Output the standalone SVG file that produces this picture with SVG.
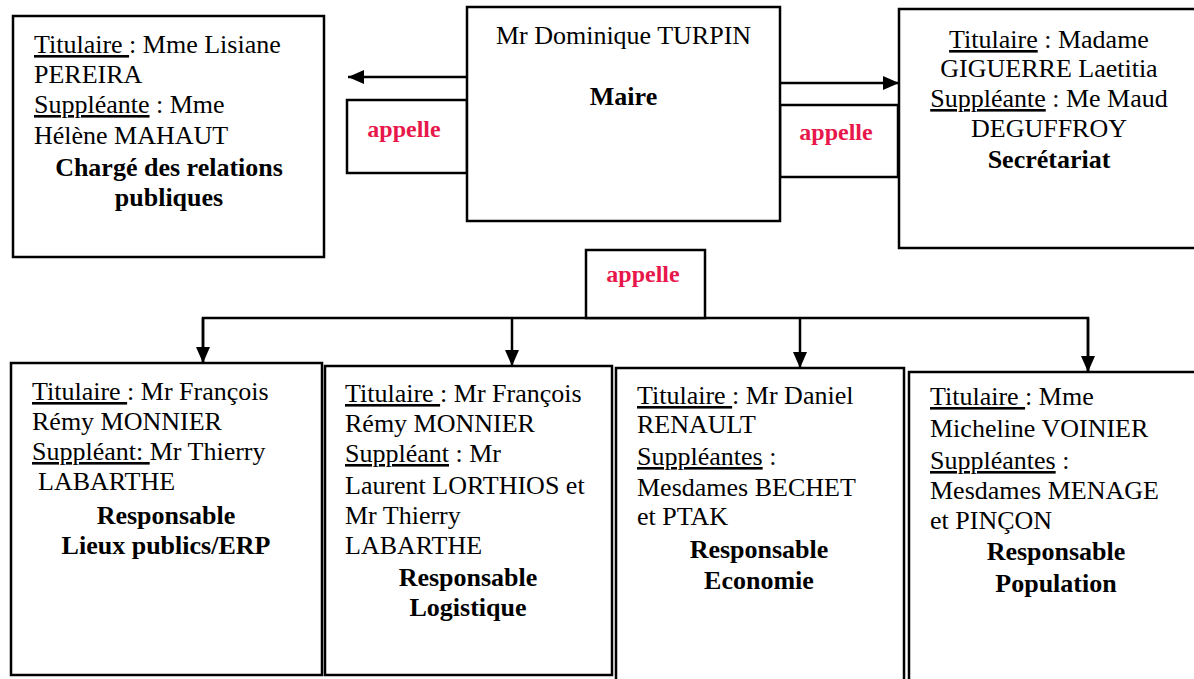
<svg xmlns="http://www.w3.org/2000/svg" width="1194" height="679" viewBox="0 0 1194 679">
<style>
.box{fill:#fff;stroke:#000;stroke-width:2.5}
.t{font-family:"Liberation Serif","Times New Roman",serif;font-size:26px;fill:#000}
.b{font-weight:bold}
.c{text-anchor:middle}
.ap{font-family:"Liberation Serif","Times New Roman",serif;font-weight:bold;font-size:24px;fill:#e8174b;text-anchor:middle}
.u{text-decoration:underline}
.conn{stroke:#000;stroke-width:2.5;fill:none}
</style>
<defs>
<marker id="ah" markerWidth="16" markerHeight="14" refX="16" refY="7" orient="auto" markerUnits="userSpaceOnUse">
<path d="M0,0 L16,7 L0,14 z" fill="#000"/>
</marker>
</defs>
<rect width="1194" height="679" fill="#fff"/>
<g id="connectors">
<line class="conn" x1="467" y1="77" x2="348" y2="77" marker-end="url(#ah)"/>
<line class="conn" x1="780" y1="83" x2="899" y2="83" marker-end="url(#ah)"/>
<polyline class="conn" points="203,363 203,318 1088,318 1088,371"/>
<line class="conn" x1="203" y1="318" x2="203" y2="363" marker-end="url(#ah)"/>
<line class="conn" x1="512" y1="318" x2="512" y2="366" marker-end="url(#ah)"/>
<line class="conn" x1="800" y1="318" x2="800" y2="368" marker-end="url(#ah)"/>
<line class="conn" x1="1088" y1="318" x2="1088" y2="372" marker-end="url(#ah)"/>
</g>
<g id="appelle-left">
<rect class="box" x="347" y="100" width="120" height="73"/>
<text class="ap" x="404" y="137">appelle</text>
</g>
<g id="appelle-right">
<rect class="box" x="780" y="105" width="118" height="72"/>
<text class="ap" x="836" y="140">appelle</text>
</g>
<g id="appelle-bottom">
<rect class="box" x="586" y="250" width="119" height="68"/>
<text class="ap" x="643" y="282">appelle</text>
</g>
<g id="maire">
<rect class="box" x="467" y="7" width="313" height="214"/>
<text class="t c" x="623.5" y="44">Mr Dominique TURPIN</text>
<text class="t b c" x="623.5" y="105">Maire</text>
</g>
<g id="relations-publiques">
<rect class="box" x="13" y="16" width="311" height="241"/>
<text class="t" x="34" y="53"><tspan class="u">Titulaire </tspan>: Mme Lisiane</text>
<text class="t" x="34" y="83">PEREIRA</text>
<text class="t" x="34" y="113"><tspan class="u">Suppléante</tspan> : Mme</text>
<text class="t" x="34" y="144">Hélène MAHAUT</text>
<text class="t b c" x="169" y="176">Chargé des relations</text>
<text class="t b c" x="169" y="206">publiques</text>
</g>
<g id="secretariat">
<rect class="box" x="899" y="9" width="300" height="239"/>
<text class="t c" x="1049" y="48"><tspan class="u">Titulaire</tspan> : Madame</text>
<text class="t c" x="1049" y="77">GIGUERRE Laetitia</text>
<text class="t c" x="1049" y="107"><tspan class="u">Suppléante</tspan> : Me Maud</text>
<text class="t c" x="1049" y="137">DEGUFFROY</text>
<text class="t b c" x="1049" y="168">Secrétariat</text>
</g>
<g id="lieux-publics">
<rect class="box" x="11" y="363" width="311" height="312"/>
<text class="t" x="32" y="400"><tspan class="u">Titulaire </tspan>: Mr François</text>
<text class="t" x="32" y="430">Rémy MONNIER</text>
<text class="t" x="32" y="460"><tspan class="u">Suppléant: </tspan>Mr Thierry</text>
<text class="t" x="38" y="490">LABARTHE</text>
<text class="t b c" x="166" y="524">Responsable</text>
<text class="t b c" x="166" y="554">Lieux publics/ERP</text>
</g>
<g id="logistique">
<rect class="box" x="325" y="366" width="287" height="309"/>
<text class="t" x="345" y="402"><tspan class="u">Titulaire </tspan>: Mr François</text>
<text class="t" x="345" y="432">Rémy MONNIER</text>
<text class="t" x="345" y="462"><tspan class="u">Suppléant</tspan> : Mr</text>
<text class="t" x="345" y="494">Laurent LORTHIOS et</text>
<text class="t" x="345" y="524">Mr Thierry</text>
<text class="t" x="345" y="554">LABARTHE</text>
<text class="t b c" x="468" y="586">Responsable</text>
<text class="t b c" x="468" y="616">Logistique</text>
</g>
<g id="economie">
<rect class="box" x="616" y="368" width="288" height="320"/>
<text class="t" x="637" y="404"><tspan class="u">Titulaire </tspan>: Mr Daniel</text>
<text class="t" x="637" y="433">RENAULT</text>
<text class="t" x="637" y="465"><tspan class="u">Suppléantes</tspan> :</text>
<text class="t" x="637" y="496">Mesdames BECHET</text>
<text class="t" x="637" y="525">et PTAK</text>
<text class="t b c" x="759" y="558">Responsable</text>
<text class="t b c" x="759" y="589">Economie</text>
</g>
<g id="population">
<rect class="box" x="909" y="372" width="300" height="320"/>
<text class="t" x="930" y="405"><tspan class="u">Titulaire </tspan>: Mme</text>
<text class="t" x="930" y="437">Micheline VOINIER</text>
<text class="t" x="930" y="469"><tspan class="u">Suppléantes</tspan> :</text>
<text class="t" x="930" y="499">Mesdames MENAGE</text>
<text class="t" x="930" y="529">et PINÇON</text>
<text class="t b c" x="1056" y="560">Responsable</text>
<text class="t b c" x="1056" y="592">Population</text>
</g>
</svg>
